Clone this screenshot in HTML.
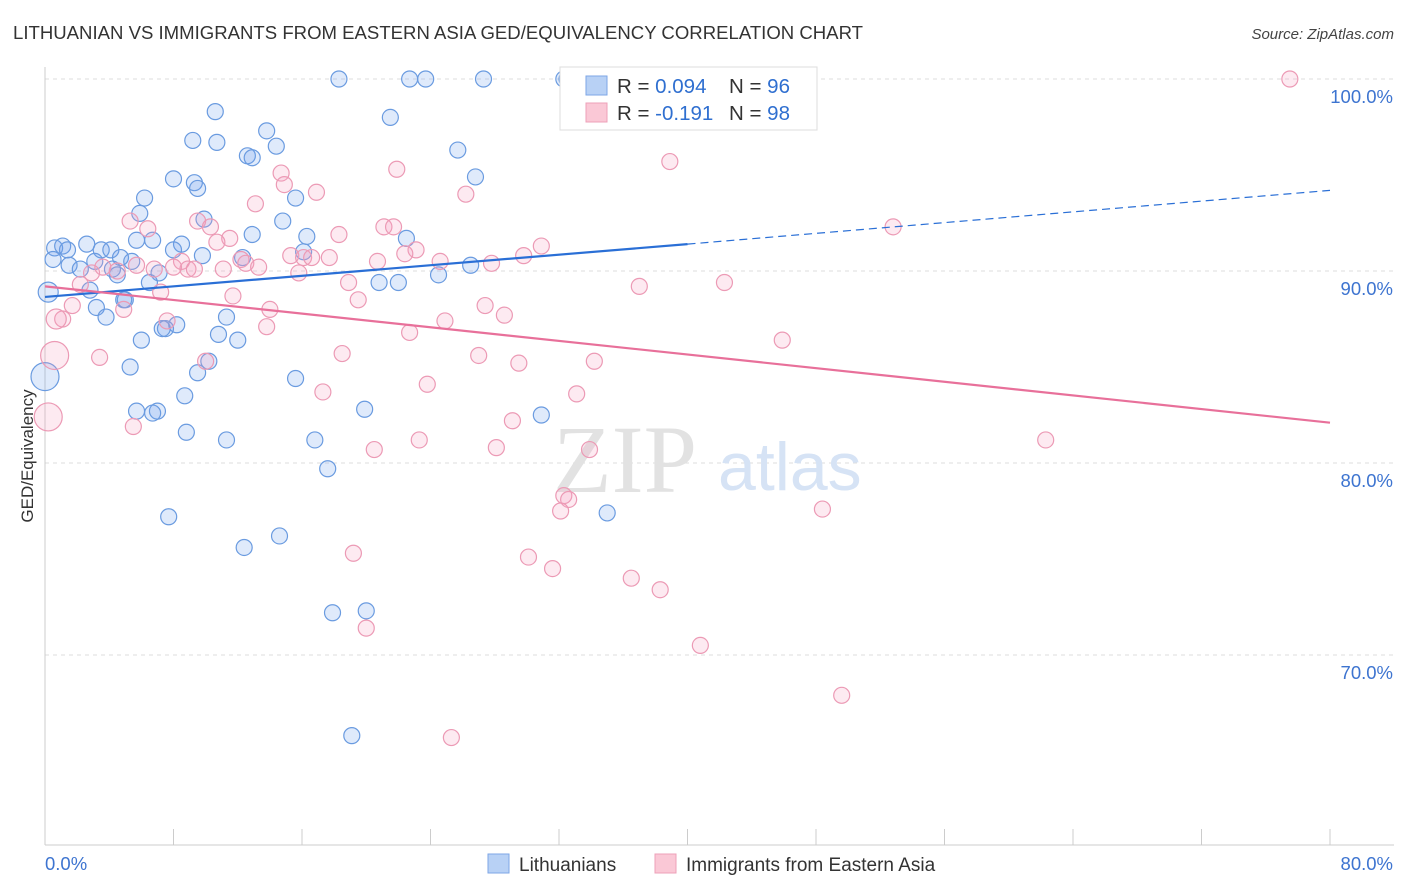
<!DOCTYPE html>
<html><head><meta charset="utf-8"><style>
body{margin:0;background:#fff;font-family:"Liberation Sans",sans-serif}
svg{display:block}
</style></head><body>
<svg id="chart" width="1406" height="892" xmlns="http://www.w3.org/2000/svg">
<text x="13" y="39" font-size="18" fill="#333" font-family="Liberation Sans" textLength="850" lengthAdjust="spacingAndGlyphs">LITHUANIAN VS IMMIGRANTS FROM EASTERN ASIA GED/EQUIVALENCY CORRELATION CHART</text>
<text x="1394" y="39" font-size="15" fill="#444" text-anchor="end" font-style="italic">Source: ZipAtlas.com</text>
<text transform="translate(33,456) rotate(-90)" font-size="17" fill="#333" text-anchor="middle">GED/Equivalency</text>
<g id="grid"></g>
<g>
<text x="553" y="492" font-family="Liberation Serif" font-size="96" fill="#e2e2e2">ZIP</text>
<text x="718" y="490" font-family="Liberation Sans" font-size="68" fill="#d6e3f5">atlas</text>
</g>
<g id="pts"></g>
<g id="trend"></g>
<g>
<rect x="560" y="67" width="257" height="63" fill="#fff" stroke="#ddd"/>
<rect x="586" y="76" width="21" height="19" fill="#b8d1f5" stroke="#7ea6e6"/>
<rect x="586" y="103" width="21" height="19" fill="#fac8d6" stroke="#eea0b8"/>
<text x="617" y="93" font-size="20.5" fill="#333">R = <tspan fill="#2f6fd0">0.094</tspan></text>
<text x="729" y="93" font-size="20.5" fill="#333">N = <tspan fill="#2f6fd0">96</tspan></text>
<text x="617" y="120" font-size="20.5" fill="#333">R = <tspan fill="#2f6fd0">-0.191</tspan></text>
<text x="729" y="120" font-size="20.5" fill="#333">N = <tspan fill="#2f6fd0">98</tspan></text>
</g>
<g>
<rect x="488" y="854" width="21" height="19" fill="#b8d1f5" stroke="#7ea6e6"/>
<text x="519" y="871" font-size="19" fill="#333">Lithuanians</text>
<rect x="655" y="854" width="21" height="19" fill="#fac8d6" stroke="#eea0b8"/>
<text x="686" y="871" font-size="19" fill="#333">Immigrants from Eastern Asia</text>
</g>
</svg>
<script>
const yTicks=[70,80,90,100];
const yTickLabels=["70.0%","80.0%","90.0%","100.0%"];
const xTickVals=[0,8,16,24,32,40,48,56,64,72,80];
const xEndLabels=["0.0%","80.0%"];
const blueX=[18.3,22.7,23.7,27.3,32.3,32.5,10.6,21.5,13.8,9.2,10.7,14.4,12.6,12.9,25.7,8.0,9.3,9.5,26.8,6.2,15.6,5.9,9.9,14.8,12.9,16.3,6.7,8.5,8.0,22.5,0.6,1.1,1.4,2.6,3.5,4.1,5.7,16.1,0.5,1.5,3.1,4.7,5.4,12.3,9.8,26.5,2.2,4.2,4.5,7.1,24.5,20.8,22.0,0.2,2.8,6.5,5.0,4.9,3.2,3.8,11.3,8.2,7.5,7.3,10.8,6.0,12.0,10.2,5.3,9.5,15.6,8.7,5.7,7.0,6.7,19.9,30.9,8.8,11.3,16.8,17.6,7.7,35.0,14.6,12.4,17.9,20.0,19.1,0];
const blueY=[100,100,100,100,100,100,98.3,98.0,97.3,96.8,96.7,96.5,96.0,95.9,96.3,94.8,94.6,94.3,94.9,93.8,93.8,93.0,92.7,92.6,91.9,91.8,91.6,91.4,91.1,91.7,91.2,91.3,91.1,91.4,91.1,91.1,91.6,91.0,90.6,90.3,90.5,90.7,90.5,90.7,90.8,90.3,90.1,90.1,89.8,89.9,89.8,89.4,89.4,88.9,89.0,89.4,88.5,88.5,88.1,87.6,87.6,87.2,87.0,87.0,86.7,86.4,86.4,85.3,85.0,84.7,84.4,83.5,82.7,82.7,82.6,82.8,82.5,81.6,81.2,81.2,79.7,77.2,77.4,76.2,75.6,72.2,72.3,65.8,84.5];
const blueBig=[88];
const blueMid=[53];
const pinkX=[37.9,43.2,77.5,38.9,14.7,14.9,21.9,16.9,26.2,13.1,5.3,9.5,10.3,6.4,21.1,21.7,18.3,52.8,30.9,23.1,11.5,10.7,15.3,16.1,16.6,17.7,29.8,27.8,24.6,20.7,22.4,12.2,12.5,13.3,8.5,8.9,9.3,8.0,6.8,11.1,5.7,4.5,3.6,2.9,2.2,1.7,1.1,0.7,4.9,7.2,11.7,14.0,18.9,19.5,15.8,27.4,28.6,24.9,22.7,7.6,13.8,37.0,42.3,45.9,18.5,10.0,3.4,27.0,29.5,34.2,23.8,17.3,33.1,29.1,5.5,23.3,20.5,28.1,33.9,62.3,32.3,32.6,32.1,48.4,19.2,30.1,31.6,36.5,38.3,20.0,40.8,49.6,25.3,0.6,0.2];
const pinkY=[100,100,100,95.7,95.1,94.5,95.3,94.1,94.0,93.5,92.6,92.6,92.3,92.2,92.3,92.3,91.9,92.3,91.3,91.1,91.7,91.5,90.8,90.7,90.7,90.7,90.8,90.4,90.5,90.5,90.9,90.6,90.4,90.2,90.5,90.1,90.1,90.2,90.1,90.1,90.3,90.0,90.2,89.9,89.3,88.2,87.5,87.5,88.0,88.9,88.7,88.0,89.4,88.5,89.9,88.2,87.7,87.4,86.8,87.4,87.1,89.2,89.4,86.4,85.7,85.3,85.5,85.6,85.2,85.3,84.1,83.7,83.6,82.2,81.9,81.2,80.7,80.8,80.7,81.2,78.3,78.1,77.5,77.6,75.3,75.1,74.5,74.0,73.4,71.4,70.5,67.9,65.7,85.6,82.4];
const pinkBig=[93,94];
const pinkMid=[47];
const blueTrend=[[0,88.65],[40,91.4],[80,94.2]];
const pinkTrend=[[0,89.2],[80,82.1]];

const NS="http://www.w3.org/2000/svg";
const sx=v=>45+v/80*1285;
const sy=v=>79+(100-v)*19.2;
function mk(tag,attrs,parent){const e=document.createElementNS(NS,tag);for(const k in attrs)e.setAttribute(k,attrs[k]);parent.appendChild(e);return e;}
const grid=document.getElementById('grid');
yTicks.forEach((t,i)=>{
  const l=mk('line',{x1:45,x2:1394,y1:sy(t),y2:sy(t),stroke:'#ddd','stroke-dasharray':'4,4'},grid);
  
  
  const tx=mk('text',{x:1393,y:sy(t)+24,'font-size':18.5,fill:'#3d74d0','text-anchor':'end'},grid);
  tx.textContent=yTickLabels[i];
  
  
});
const ax=mk('line',{x1:45,x2:45,y1:67,y2:845,stroke:'#ccc'},grid);


const bx=mk('line',{x1:45,x2:1394,y1:845,y2:845,stroke:'#ccc'},grid);


xTickVals.forEach(v=>{
  const t=mk('line',{x1:sx(v),x2:sx(v),y1:829,y2:845,stroke:'#ccc'},grid);
  
  
});
[[0,'start'],[80,'end']].forEach((p,i)=>{
  const t=mk('text',{x:i?1393:45,y:870,'font-size':18.5,fill:'#3d74d0','text-anchor':p[1]},grid);
  t.textContent=xEndLabels[i];
  
  
});
const pts=document.getElementById('pts');
function draw(X,Y,big,mid,fill,stroke,name){
  X.forEach((x,i)=>{
    const r=big.includes(i)?14:(mid.includes(i)?10:8);
    const c=mk('circle',{cx:sx(x),cy:sy(Y[i]),r:r,fill:fill,stroke:stroke,'stroke-width':1.2},pts);
    
    
  });
}
draw(blueX,blueY,blueBig,blueMid,'rgba(110,160,235,0.22)','#6a9be0','lithuanian-point');
draw(pinkX,pinkY,pinkBig,pinkMid,'rgba(245,160,190,0.22)','#ec9ab5','eastern-asia-point');
const tr=document.getElementById('trend');
const b1=mk('line',{x1:sx(blueTrend[0][0]),y1:sy(blueTrend[0][1]),x2:sx(blueTrend[1][0]),y2:sy(blueTrend[1][1]),stroke:'#2a6fd6','stroke-width':2.2},tr);


const b2=mk('line',{x1:sx(blueTrend[1][0]),y1:sy(blueTrend[1][1]),x2:sx(blueTrend[2][0]),y2:sy(blueTrend[2][1]),stroke:'#2a6fd6','stroke-width':1.2,'stroke-dasharray':'8,5'},tr);


const p1=mk('line',{x1:sx(pinkTrend[0][0]),y1:sy(pinkTrend[0][1]),x2:sx(pinkTrend[1][0]),y2:sy(pinkTrend[1][1]),stroke:'#e8709a','stroke-width':2.2},tr);


</script>
</body></html>
